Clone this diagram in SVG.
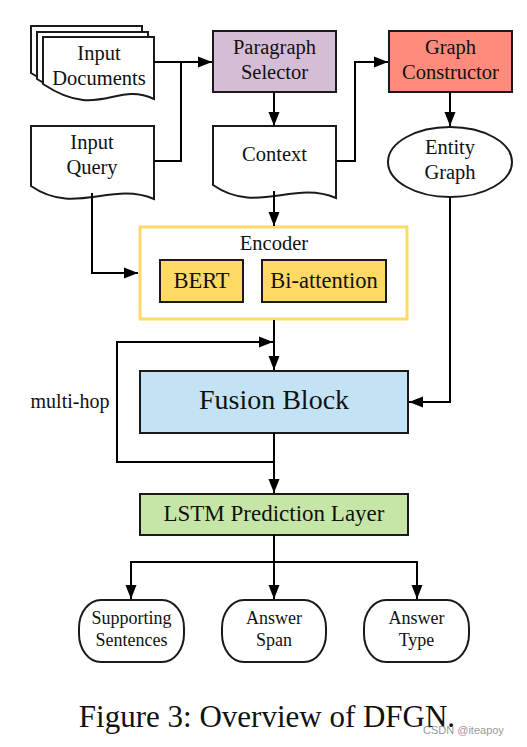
<svg xmlns="http://www.w3.org/2000/svg" width="527" height="747" viewBox="0 0 527 747">
<style>
.t{font-family:"Liberation Serif","Times New Roman",serif;fill:#111;text-anchor:middle}
.s{stroke:#1a1a1a;stroke-width:2}
.doc{fill:#fff;stroke:#1a1a1a;stroke-width:2}
.c{fill:none;stroke:#000;stroke-width:2}
</style>
<defs>
<marker id="ah" markerUnits="userSpaceOnUse" markerWidth="15" markerHeight="12" refX="14" refY="6" orient="auto">
<path d="M0,0.5 L14,6 L0,11.5 z" fill="#000"/>
</marker>
</defs>
<rect width="527" height="747" fill="#fff"/>

<g id="input-documents">
<path class="doc" d="M31,26 H142 V88 C103,70 87,110 31,73 Z"/>
<path class="doc" d="M37,32 H148 V94 C109,76 93,116 37,79 Z"/>
<path class="doc" d="M43,37 H154 V99 C115,81 99,121 43,84 Z"/>
<text class="t" font-size="20.5" x="99" y="60">Input</text>
<text class="t" font-size="20.5" x="99" y="85">Documents</text>
</g>

<g id="input-query">
<path class="doc" d="M31,126 H154 V199 C111,181 74,216 31,186 Z"/>
<text class="t" font-size="20.5" x="92" y="149">Input</text>
<text class="t" font-size="20.5" x="92" y="174">Query</text>
</g>

<g id="paragraph-selector">
<rect class="s" x="213" y="31" width="123" height="61" fill="#D5BDD5"/>
<text class="t" font-size="20.5" x="274.5" y="54">Paragraph</text>
<text class="t" font-size="20.5" x="274.5" y="79">Selector</text>
</g>

<g id="graph-constructor">
<rect class="s" x="389" y="31" width="123" height="61" fill="#FF8B7D"/>
<text class="t" font-size="20.5" x="450.5" y="54">Graph</text>
<text class="t" font-size="20.5" x="450.5" y="79">Constructor</text>
</g>

<g id="context">
<path class="doc" d="M213,126 H336 V198 C293,180 256,215 213,185 Z"/>
<text class="t" font-size="20.5" x="274.5" y="161">Context</text>
</g>

<g id="entity-graph">
<ellipse class="doc" cx="450" cy="162" rx="62" ry="35"/>
<text class="t" font-size="20.5" x="450" y="154">Entity</text>
<text class="t" font-size="20.5" x="450" y="179">Graph</text>
</g>

<g id="encoder">
<rect x="140" y="227" width="267" height="92" fill="#fff" stroke="#FFD966" stroke-width="3"/>
<text class="t" font-size="20.5" x="274" y="250">Encoder</text>
<g id="bert">
<rect class="s" x="160" y="260" width="83" height="42" fill="#FFD966"/>
<text class="t" font-size="22.5" x="201.5" y="288">BERT</text>
</g>
<g id="bi-attention">
<rect class="s" x="262" y="260" width="124" height="42" fill="#FFD966"/>
<text class="t" font-size="22.5" x="324" y="288">Bi-attention</text>
</g>
</g>

<g id="fusion-block">
<rect class="s" x="140" y="371" width="268" height="62" fill="#C3E3F5"/>
<text class="t" font-size="28" x="274" y="409">Fusion Block</text>
</g>

<g id="multi-hop-label">
<text class="t" font-size="20" x="70" y="408">multi-hop</text>
</g>

<g id="lstm">
<rect class="s" x="140" y="494" width="268" height="41" fill="#C6E6A8"/>
<text class="t" font-size="23" x="274" y="521">LSTM Prediction Layer</text>
</g>

<g id="supporting-sentences">
<rect class="doc" x="79" y="600" width="105" height="62" rx="22" ry="28"/>
<text class="t" font-size="18" x="131.5" y="624">Supporting</text>
<text class="t" font-size="18" x="131.5" y="646">Sentences</text>
</g>
<g id="answer-span">
<rect class="doc" x="222" y="600" width="104" height="62" rx="22" ry="28"/>
<text class="t" font-size="18" x="274" y="624">Answer</text>
<text class="t" font-size="18" x="274" y="646">Span</text>
</g>
<g id="answer-type">
<rect class="doc" x="364" y="600" width="105" height="62" rx="22" ry="28"/>
<text class="t" font-size="18" x="416.5" y="624">Answer</text>
<text class="t" font-size="18" x="416.5" y="646">Type</text>
</g>

<g id="connectors">
<path class="c" d="M154,62 H212" marker-end="url(#ah)"/>
<path class="c" d="M154,161 H181 V62"/>
<path class="c" d="M274,92 V126" marker-end="url(#ah)"/>
<path class="c" d="M336,161 H355 V62 H388" marker-end="url(#ah)"/>
<path class="c" d="M450,92 V126" marker-end="url(#ah)"/>
<path class="c" d="M274,191 V226" marker-end="url(#ah)"/>
<path class="c" d="M92,193 V273 H138" marker-end="url(#ah)"/>
<path class="c" d="M450,197 V402 H409" marker-end="url(#ah)"/>
<path class="c" d="M274,320 V370" marker-end="url(#ah)"/>
<path class="c" d="M274,433 V462 H117 V342 H273" marker-end="url(#ah)"/>
<path class="c" d="M274,462 V493" marker-end="url(#ah)"/>
<path class="c" d="M274,535 V599" marker-end="url(#ah)"/>
<path class="c" d="M274,562 H131 V599" marker-end="url(#ah)"/>
<path class="c" d="M274,562 H417 V599" marker-end="url(#ah)"/>
</g>

<text class="t" font-size="31" x="267" y="727">Figure 3: Overview of DFGN.</text>
<text x="423" y="734" font-family="Liberation Sans,Arial,sans-serif" font-size="11" fill="#999">CSDN @iteapoy</text>
</svg>
